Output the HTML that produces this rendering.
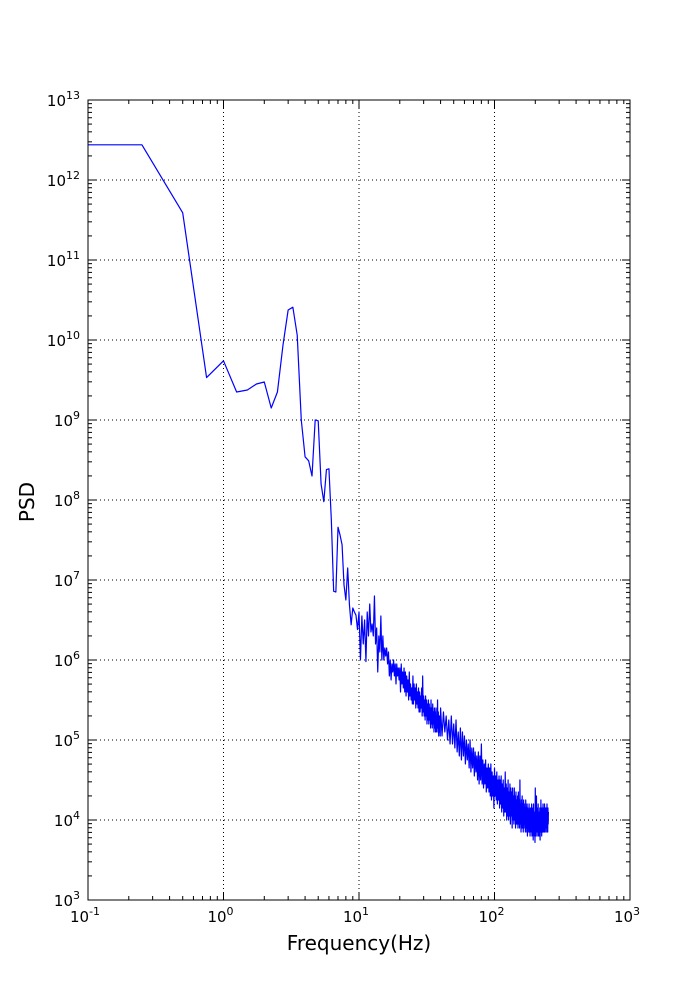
<!DOCTYPE html>
<html><head><meta charset="utf-8"><style>
body{margin:0;background:#fff;}
svg text{font-family:"DejaVu Sans","Liberation Sans",sans-serif;fill:#000;}
</style></head><body>
<svg id="chart" width="700" height="1000" xmlns="http://www.w3.org/2000/svg">
<rect x="0" y="0" width="700" height="1000" fill="#fff"/>
<g id="grid"></g>
<g id="ticks"></g>
<g id="labels"></g>
<polyline id="line" fill="none" stroke="#0000ff" stroke-width="1.2" stroke-linejoin="round"/>
<rect x="88" y="100" width="542" height="800" fill="none" stroke="#000" stroke-width="1"/>
<text x="359" y="950" font-size="20" text-anchor="middle">Frequency(Hz)</text>
<text x="34" y="502" font-size="20" text-anchor="middle" transform="rotate(-90 34 502)">PSD</text>
</svg>
<script>
const lowFreq = [0.1,0.25,0.5,0.75,1,1.25,1.5,1.75,2,2.25,2.5,2.75,3,3.25,3.5,3.75,4,4.25,4.5,4.75,5,5.25,5.5,5.75,6,6.25,6.5,6.75,7,7.25,7.5,7.75,8,8.25,8.5,8.75,9,9.25,9.5,9.75];
const lowLogPsd = [12.44,12.44,11.59,9.53,9.74,9.35,9.375,9.45,9.475,9.15,9.35,9.94,10.375,10.41,10.06,9.0,8.54,8.49,8.3,9.0,8.99,8.2,7.98,8.38,8.39,7.75,6.86,6.85,7.66,7.56,7.44,6.94,6.75,7.15,6.69,6.44,6.65,6.6,6.56,6.38];
const midStartHz = 10;
const midStepHz = 0.25;
const midLogPsd = [
6.6,6.0,6.55,6.2,6.5,5.98,6.6,6.3,6.7,6.35,6.45,6.3,
6.8,6.2,6.4,5.85,6.3,6.1,6.55,6.0,6.3,6.0,6.15,6.05,
6.15,5.95,6.1,5.8,6.0,5.75,5.95,5.85,6.0,5.8,5.95,5.7,
5.95,5.8,5.9,5.75,5.9,5.6,5.95,5.7,5.85,5.65,5.9,5.6,
5.85,5.55,5.8,5.6,5.75,5.5,5.85,5.55,5.7,5.5,5.65,5.45,
5.8,5.45,5.7,5.5,5.65,5.4,5.7,5.45,5.6,5.4,5.65,5.35,
5.6,5.35,5.55,5.4,5.65,5.3,5.8,5.35,5.55,5.3,5.5,5.25,
5.55,5.3,5.5,5.2,5.45,5.25,5.5,5.2,5.45,5.25,5.4,5.15,
5.5,5.2,5.4,5.15,5.45,5.2,5.35,5.1,5.4,5.15,5.35,5.1,
5.4,5.1,5.3,5.15,5.5,5.1,5.35,5.05,5.3,5.1,5.3,5.05];
const highStartHz = 40;
const highLogPsd = [
5.4,5.05,5.35,5.1,5.3,5.0,5.25,4.95,5.3,4.95,
5.2,4.9,5.25,4.85,5.1,4.8,5.15,4.75,5.1,4.8,
5.05,4.7,5.0,4.75,4.95,4.65,5.0,4.6,4.9,4.65,
4.9,4.55,4.85,4.6,4.8,4.5,4.85,4.45,4.8,4.5,
4.95,4.45,4.75,4.4,4.7,4.45,4.75,4.35,4.65,4.4,
4.7,4.35,4.65,4.3,4.7,4.25,4.6,4.3,4.55,4.15,
4.65,4.3,4.55,4.25,4.6,4.2,4.5,4.25,4.55,4.15,
4.5,4.2,4.55,4.1,4.45,4.15,4.5,4.05,4.4,4.1,
4.6,4.1,4.45,4.0,4.4,4.05,4.5,4.0,4.35,4.05,
4.45,3.95,4.4,4.05,4.35,3.9,4.4,4.0,4.3,3.95,
4.4,4.0,4.3,3.9,4.35,3.95,4.25,3.95,4.3,3.9,
4.35,3.95,4.25,3.9,4.5,3.95,4.2,3.85,4.25,3.9,
4.3,3.9,4.2,3.85,4.25,3.9,4.2,3.95,4.15,3.85,
4.25,3.9,4.15,3.85,4.2,3.8,4.15,3.9,4.1,3.85,
4.2,3.85,4.1,3.8,4.15,3.9,4.1,3.85,4.2,3.8,
4.15,3.85,4.1,3.75,4.2,3.9,4.05,3.8,4.1,3.72,
4.4,3.85,4.1,3.8,4.3,3.9,4.1,3.85,4.15,3.8,
4.2,3.85,4.05,3.8,4.1,3.9,4.15,3.75,4.1,3.85,
4.25,3.85,4.1,3.8,4.15,3.9,4.05,3.85,4.2,3.85,
4.1,3.9,4.15,3.85,4.2,3.9,4.1,3.85,4.15,3.9,
4.15,3.9,4.1,3.85,4.2,3.9,4.1,3.85,4.15,3.95,4.1];
const xDecades = [-1,0,1,2,3];
const yDecades = [3,4,5,6,7,8,9,10,11,12,13];

const L=88,R=630,T=100,B=900;
const xs = f => L + (Math.log10(f)-(-1))/(3-(-1))*(R-L);
const ys = lg => B - (lg-3)/(13-3)*(B-T);
const NS="http://www.w3.org/2000/svg";
function mk(tag, attrs, parent){const e=document.createElementNS(NS,tag);for(const k in attrs)e.setAttribute(k,attrs[k]);parent.appendChild(e);return e;}
const grid=document.getElementById('grid'), ticks=document.getElementById('ticks'), labels=document.getElementById('labels');

xDecades.forEach(d=>{
  const x=xs(Math.pow(10,d));
  if(d>-1&&d<3){const g=mk('line',{x1:x,x2:x,y1:T,y2:B,stroke:'#000','stroke-dasharray':'1,3','stroke-width':1},grid);
  
  }
  [[B,B-8],[T,T+8]].forEach(p=>{mk('line',{x1:x,x2:x,y1:p[0],y2:p[1],stroke:'#000'},ticks);});
  if(d<3){for(let m=2;m<10;m++){const xm=xs(m*Math.pow(10,d));
    [[B,B-4],[T,T+4]].forEach(p=>{mk('line',{x1:xm,x2:xm,y1:p[0],y2:p[1],stroke:'#000'},ticks);});}}
  const t=mk('text',{x:x-3,y:B+22,'font-size':15,'text-anchor':'middle'},labels);
  
  
  t.textContent='10';
  const s=mk('tspan',{dy:-7,'font-size':11},t); s.textContent=String(d);
});
yDecades.forEach(d=>{
  const y=ys(d);
  if(d>3&&d<13){const g=mk('line',{x1:L,x2:R,y1:y,y2:y,stroke:'#000','stroke-dasharray':'1,3','stroke-width':1},grid);
  
  }
  [[L,L+8],[R,R-8]].forEach(p=>{mk('line',{x1:p[0],x2:p[1],y1:y,y2:y,stroke:'#000'},ticks);});
  if(d<13){for(let m=2;m<10;m++){const ym=ys(d+Math.log10(m));
    [[L,L+4],[R,R-4]].forEach(p=>{mk('line',{x1:p[0],x2:p[1],y1:ym,y2:ym,stroke:'#000'},ticks);});}}
  const t=mk('text',{x:L-8,y:y+6,'font-size':15,'text-anchor':'end'},labels);
  
  
  const base=document.createElementNS(NS,'tspan'); base.textContent='10'; t.appendChild(base);
  const s=mk('tspan',{dy:-7,'font-size':11},t); s.textContent=String(d);
});
const pts=[];
lowFreq.forEach((f,i)=>pts.push(xs(f).toFixed(2)+','+ys(lowLogPsd[i]).toFixed(2)));
midLogPsd.forEach((v,i)=>pts.push(xs(midStartHz+i*midStepHz).toFixed(2)+','+ys(v).toFixed(2)));
highLogPsd.forEach((v,i)=>pts.push(xs(highStartHz+i).toFixed(2)+','+ys(v).toFixed(2)));
document.getElementById('line').setAttribute('points',pts.join(' '));
</script>
</body></html>
